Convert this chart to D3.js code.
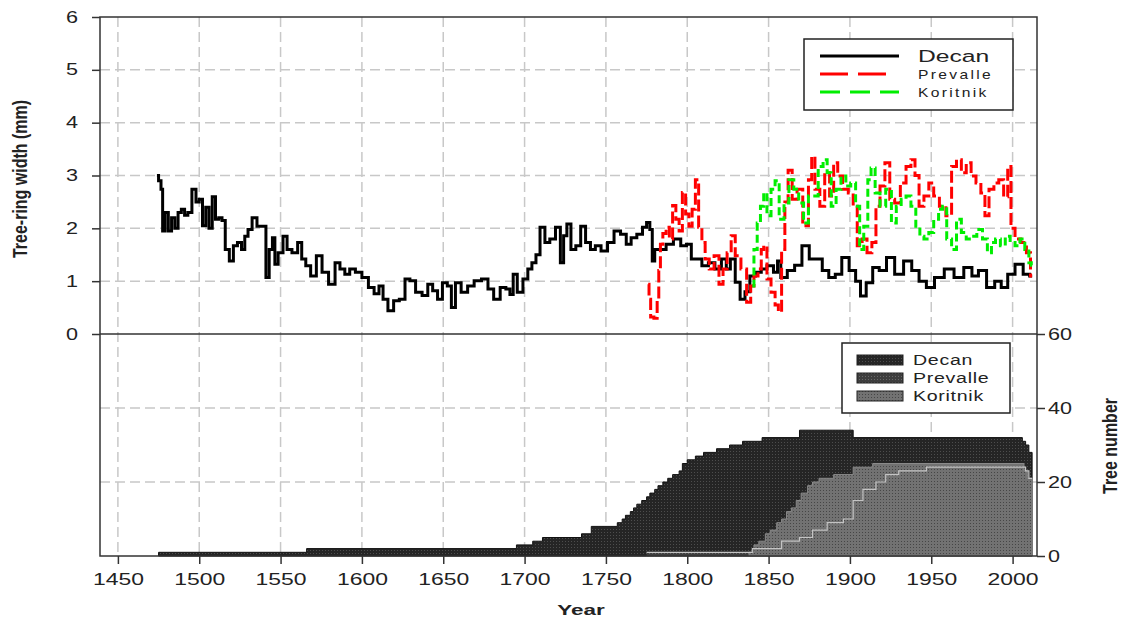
<!DOCTYPE html>
<html>
<head>
<meta charset="utf-8">
<script src="https://cdn.jsdelivr.net/npm/d3@7"></script>
<style>
body{margin:0;background:#fff}
text{font-family:"Liberation Sans",Arial,sans-serif;fill:#222}
</style>
</head>
<body>
<script>
// ring width series (mm)
const decanYears = [1474,1476,1477,1478,1480,1482,1484,1486,1488,1490,1492,1494,1497,1499,1501,1503,1505,1507,1509,1511,1513,1515,1517,1520,1522,1525,1527,1529,1531,1534,1537,1540,1542,1544,1546,1547,1550,1553,1555,1559,1562,1564,1567,1570,1574,1577,1582,1585,1588,1591,1594,1598,1602,1606,1609,1612,1614,1618,1621,1625,1628,1631,1635,1639,1642,1645,1648,1651,1654,1656,1659,1663,1667,1671,1676,1679,1683,1687,1690,1692,1694,1697,1701,1703,1706,1708,1711,1714,1717,1721,1723,1725,1727,1730,1733,1736,1739,1742,1745,1749,1753,1757,1761,1764,1767,1771,1774,1776,1778,1779,1781,1785,1789,1794,1798,1801,1804,1807,1811,1815,1819,1823,1825,1828,1831,1834,1837,1840,1844,1847,1851,1855,1856,1859,1864,1868,1873,1877,1881,1885,1889,1893,1897,1902,1905,1908,1912,1916,1920,1925,1930,1936,1940,1945,1949,1955,1961,1967,1973,1977,1981,1987,1991,1995,1999,2004,2009,2012]
const decanWidth = [3.0,2.9,2.74,1.95,2.3,1.95,2.2,2.0,2.3,2.36,2.25,2.3,2.74,2.5,2.55,2.05,2.4,2.0,2.6,2.17,2.2,2.15,1.6,1.38,1.67,1.73,1.6,1.85,1.98,2.2,2.04,2.04,1.07,1.6,1.82,1.32,1.54,1.85,1.6,1.54,1.73,1.42,1.29,1.1,1.48,1.17,0.94,1.35,1.23,1.13,1.23,1.17,1.07,0.88,0.76,0.91,0.66,0.44,0.63,0.66,1.04,1.01,0.79,0.73,0.94,0.82,0.66,0.97,0.91,0.5,0.97,0.79,0.91,1.01,1.04,0.85,0.66,0.88,0.85,0.75,1.13,0.79,1.04,1.23,1.35,1.5,2.02,1.73,1.8,2.02,1.35,1.86,2.08,1.6,1.67,2.04,1.73,1.6,1.67,1.57,1.73,1.95,1.89,1.7,1.82,1.89,2.02,2.11,1.98,1.38,1.6,1.6,1.7,1.8,1.67,1.7,1.42,1.42,1.29,1.35,1.23,1.42,1.23,1.42,0.98,0.66,0.8,1.1,1.17,1.23,1.29,1.17,1.38,1.07,1.2,1.3,1.67,1.42,1.42,1.2,1.07,1.13,1.45,1.2,1.0,0.72,0.97,1.26,1.2,1.45,1.13,1.38,1.2,1.0,0.88,1.07,1.23,1.07,1.26,1.1,1.2,0.88,1.0,0.88,1.13,1.32,1.13,1.1]

const prevYears = [1776,1777,1778,1781,1782,1783,1784,1786,1788,1790,1792,1794,1796,1798,1800,1802,1804,1806,1808,1810,1812,1815,1818,1821,1823,1826,1828,1831,1835,1838,1840,1842,1845,1846,1848,1850,1853,1855,1857,1859,1861,1863,1866,1869,1873,1876,1877,1880,1883,1886,1889,1891,1894,1897,1901,1903,1906,1909,1912,1915,1917,1920,1923,1926,1929,1933,1936,1939,1941,1944,1947,1950,1953,1957,1961,1964,1967,1970,1973,1976,1979,1982,1984,1987,1990,1993,1996,1998,2000,2003,2007,2010,2012]
const prevWidth = [0.94,0.66,0.32,0.3,0.7,1.2,1.7,1.9,2.02,1.8,2.43,2.17,1.95,2.68,2.27,2.04,2.36,2.92,2.02,1.73,1.42,1.23,1.48,0.94,1.23,1.54,1.86,1.48,1.23,0.6,0.91,1.1,1.23,1.6,1.67,1.04,0.79,0.55,0.42,1.6,2.5,3.1,2.55,2.74,2.05,2.92,3.36,2.74,2.42,3.05,2.61,3.24,2.99,2.74,2.67,2.42,1.67,1.8,1.54,1.73,2.42,2.8,3.24,2.55,2.48,2.86,3.17,3.3,3.0,2.42,2.61,2.86,2.61,2.42,2.24,3.17,3.3,3.05,3.24,2.99,2.86,2.67,2.24,2.74,2.86,2.92,2.6,3.17,2.0,1.8,1.73,1.54,1.1]

const korYears = [1840,1842,1844,1846,1848,1850,1853,1855,1858,1861,1864,1867,1870,1873,1876,1879,1882,1885,1887,1890,1893,1896,1899,1902,1905,1907,1910,1912,1914,1917,1920,1924,1927,1930,1933,1936,1939,1942,1944,1947,1950,1953,1956,1958,1961,1964,1967,1970,1973,1976,1980,1983,1986,1988,1991,1994,1997,2000,2003,2006,2009,2011,2012]
const korWidth = [0.91,1.6,2.1,2.42,2.67,2.24,2.74,2.9,2.17,2.48,2.92,2.74,2.48,2.1,2.61,2.61,3.17,3.3,3.05,2.42,2.74,2.99,2.8,2.86,2.42,1.6,2.04,2.92,3.14,2.67,2.42,2.74,2.1,2.42,2.55,2.61,2.42,2.04,1.85,1.8,1.92,2.17,2.36,2.42,1.8,1.6,2.17,1.92,1.8,1.85,1.98,1.8,1.54,1.73,1.8,1.67,1.85,1.73,1.67,1.8,1.6,1.35,1.3]

// tree numbers
const decanNYears = [1475,1566,1695,1705,1711,1735,1741,1757,1760,1762,1765,1767,1769,1772,1775,1777,1780,1782,1785,1788,1791,1795,1797,1800,1805,1810,1818,1826,1834,1846,1869,1902,2006,2008,2010,2012]
const decanN = [1,2,3,4,5,6,8,9,10,11,12,13,14,15,16,17,18,19,20,21,22,23,25,26,27,28,29,30,31,32,34,32,31,30,28,28]
const prevNYears = [1775,1840,1858,1869,1877,1886,1896,1902,1908,1916,1922,1930,1947,2008,2010,2012]
const prevN = [1,2,4,5,7,9,10,15,18,20,22,23,24,23,21,21]
const korNYears = [1838,1841,1844,1848,1851,1855,1858,1861,1864,1867,1870,1874,1877,1881,1890,1902,1914,2007,2009,2012]
const korN = [1,3,4,6,7,9,10,12,13,15,17,19,20,21,22,24,25,23,21,21]

const yearTicks = [1450,1500,1550,1600,1650,1700,1750,1800,1850,1900,1950,2000]
const widthTicks = [0,1,2,3,4,5,6]
const numberTicks = [0,20,40,60]
const seriesNames = ["Decan","Prevalle","Koritnik"]

const width = 1122, height = 619
const box = {left: 100, right: 1037, top: 17, mid: 334, bottom: 556}

const svg = d3.select('body').append('svg')
    .attr('width', width)
    .attr('height', height)

const x = d3.scaleLinear().domain([1439, 2015]).range([box.left, box.right])
const yW = d3.scaleLinear().domain([0, 6]).range([box.mid, box.top])
const yN = d3.scaleLinear().domain([0, 60]).range([box.bottom, box.mid])

// dotted fills
const defs = svg.append('defs')
const pats = [["pDecan","#252525","#4d4d4d"],["pPrev","#3e3e3e","#686868"],["pKor","#727272","#464646"]]
pats.forEach(p=>{
    const pt = defs.append('pattern').attr('id', p[0]).attr('patternUnits','userSpaceOnUse')
        .attr('width',3).attr('height',3)
    pt.append('rect').attr('width',3).attr('height',3).attr('fill',p[1])
    pt.append('rect').attr('x',1).attr('y',1).attr('width',1).attr('height',1).attr('fill',p[2])
})

// grid
const grid = svg.append('g').attr('stroke','#c8c8c8').attr('stroke-width',1.5).attr('stroke-dasharray','10,5')
grid.selectAll('.gv').data(yearTicks).enter().append('line')
    .attr('x1',d=>x(d)).attr('x2',d=>x(d)).attr('y1',box.top).attr('y2',box.bottom)
grid.selectAll('.gw').data(widthTicks.slice(1,6)).enter().append('line')
    .attr('x1',box.left).attr('x2',box.right).attr('y1',d=>yW(d)).attr('y2',d=>yW(d))
grid.selectAll('.gn').data([20,40]).enter().append('line')
    .attr('x1',box.left).attr('x2',box.right).attr('y1',d=>yN(d)).attr('y2',d=>yN(d))

// tree number areas
const area = (ys) => d3.area().curve(d3.curveStepAfter)
    .x((d,i)=>x(ys[i])).y0(yN(0)).y1(d=>yN(d))
const stepLine = (ys) => d3.line().curve(d3.curveStepAfter)
    .x((d,i)=>x(ys[i])).y(d=>yN(d))

svg.append('path').attr('d', area(decanNYears)(decanN))
    .attr('fill','url(#pDecan)').attr('stroke','#111').attr('stroke-width',1)
svg.append('path').attr('d', area(prevNYears)(prevN))
    .attr('fill','url(#pPrev)')
svg.append('path').attr('d', area(korNYears)(korN))
    .attr('fill','url(#pKor)').attr('stroke','#8a8a8a').attr('stroke-width',1)
svg.append('path').attr('d', stepLine(prevNYears)(prevN))
    .attr('fill','none').attr('stroke','#c4c4c4').attr('stroke-width',1.2)

// ring width lines
const line = (ys) => d3.line().curve(d3.curveStep)
    .x((d,i)=>x(ys[i])).y(d=>yW(d))

svg.append('path').attr('d', line(decanYears)(decanWidth))
    .attr('fill','none').attr('stroke','#000').attr('stroke-width',3)
svg.append('path').attr('d', line(prevYears)(prevWidth))
    .attr('fill','none').attr('stroke','#ff0000').attr('stroke-width',3).attr('stroke-dasharray','12,4')
svg.append('path').attr('d', line(korYears)(korWidth))
    .attr('fill','none').attr('stroke','#00ee00').attr('stroke-width',3).attr('stroke-dasharray','8,4')

// frame
svg.append('rect').attr('x',box.left).attr('y',box.top)
    .attr('width',box.right-box.left).attr('height',box.bottom-box.top)
    .attr('fill','none').attr('stroke','#333').attr('stroke-width',1.5)
svg.append('line').attr('x1',box.left).attr('x2',box.right).attr('y1',box.mid).attr('y2',box.mid)
    .attr('stroke','#333').attr('stroke-width',1.5)

// axes
const sx = 1.35
const ax = svg.append('g').attr('transform','translate(0,'+box.bottom+')')
    .call(d3.axisBottom(x).tickValues(yearTicks).tickFormat(d3.format('d')).tickSize(8).tickPadding(9))
ax.selectAll('text').attr('font-size',17).attr('transform','scale('+sx+',1)')

const al = svg.append('g').attr('transform','translate('+box.left+',0)')
    .call(d3.axisLeft(yW).tickValues(widthTicks).tickFormat(d3.format('d')).tickSize(8))
al.selectAll('text').attr('font-size',16).attr('x',-22/sx).attr('transform','scale('+sx+',1)')

const ar = svg.append('g').attr('transform','translate('+box.right+',0)')
    .call(d3.axisRight(yN).tickValues(numberTicks).tickFormat(d3.format('d')).tickSize(8))
ar.selectAll('text').attr('font-size',16).attr('x',11/sx).attr('transform','scale('+sx+',1)')

;[ax,al,ar].forEach(g=>{
    g.select('.domain').remove()
    g.selectAll('line').attr('stroke','#333').attr('stroke-width',1.5)
})

// titles
svg.append('text').text('Tree-ring width (mm)')
    .attr('transform','translate(27,179) rotate(-90) scale(1,1.3)')
    .attr('text-anchor','middle').attr('font-size',16).attr('font-weight','bold')
svg.append('text').text('Tree number')
    .attr('transform','translate(1117,446) rotate(-90) scale(1,1.3)')
    .attr('text-anchor','middle').attr('font-size',16).attr('font-weight','bold')
svg.append('text').text('Year')
    .attr('transform','translate(581,615) scale(1.45,1)')
    .attr('text-anchor','middle').attr('font-size',15.5).attr('font-weight','bold')

// legend, top panel
const lg1 = svg.append('g')
lg1.append('rect').attr('x',804).attr('y',39).attr('width',209).attr('height',71)
    .attr('fill','#fff').attr('stroke','#222').attr('stroke-width',1.5)
const lineStyles = [["#000",null,899],["#ff0000","28,10",887],["#00ee00","20,10",899]]
const lineRows = [56,74,92]
seriesNames.forEach((n,i)=>{
    lg1.append('line').attr('x1',820).attr('x2',lineStyles[i][2]).attr('y1',lineRows[i]).attr('y2',lineRows[i])
        .attr('stroke',lineStyles[i][0]).attr('stroke-width',3).attr('stroke-dasharray',lineStyles[i][1])
    const big = i==0
    lg1.append('text').text(n)
        .attr('transform','translate(918,'+(lineRows[i]+(big?6:5))+') scale('+(big?1.45:1.3)+',1)')
        .attr('font-size',big?17:12).attr('letter-spacing',big?0:1.8)
})

// legend, bottom panel
const lg2 = svg.append('g')
lg2.append('rect').attr('x',842).attr('y',343).attr('width',168).attr('height',70)
    .attr('fill','#fff').attr('stroke','#222').attr('stroke-width',1.5)
const swRows = [355,373,391]
seriesNames.forEach((n,i)=>{
    lg2.append('rect').attr('x',857).attr('y',swRows[i]).attr('width',46).attr('height',10)
        .attr('fill','url(#'+pats[i][0]+')').attr('stroke','#222').attr('stroke-width',1)
    lg2.append('text').text(n)
        .attr('transform','translate(913,'+(swRows[i]+10)+') scale(1.4,1)')
        .attr('font-size',14).attr('letter-spacing',0.5)
})
</script>
</body>
</html>
